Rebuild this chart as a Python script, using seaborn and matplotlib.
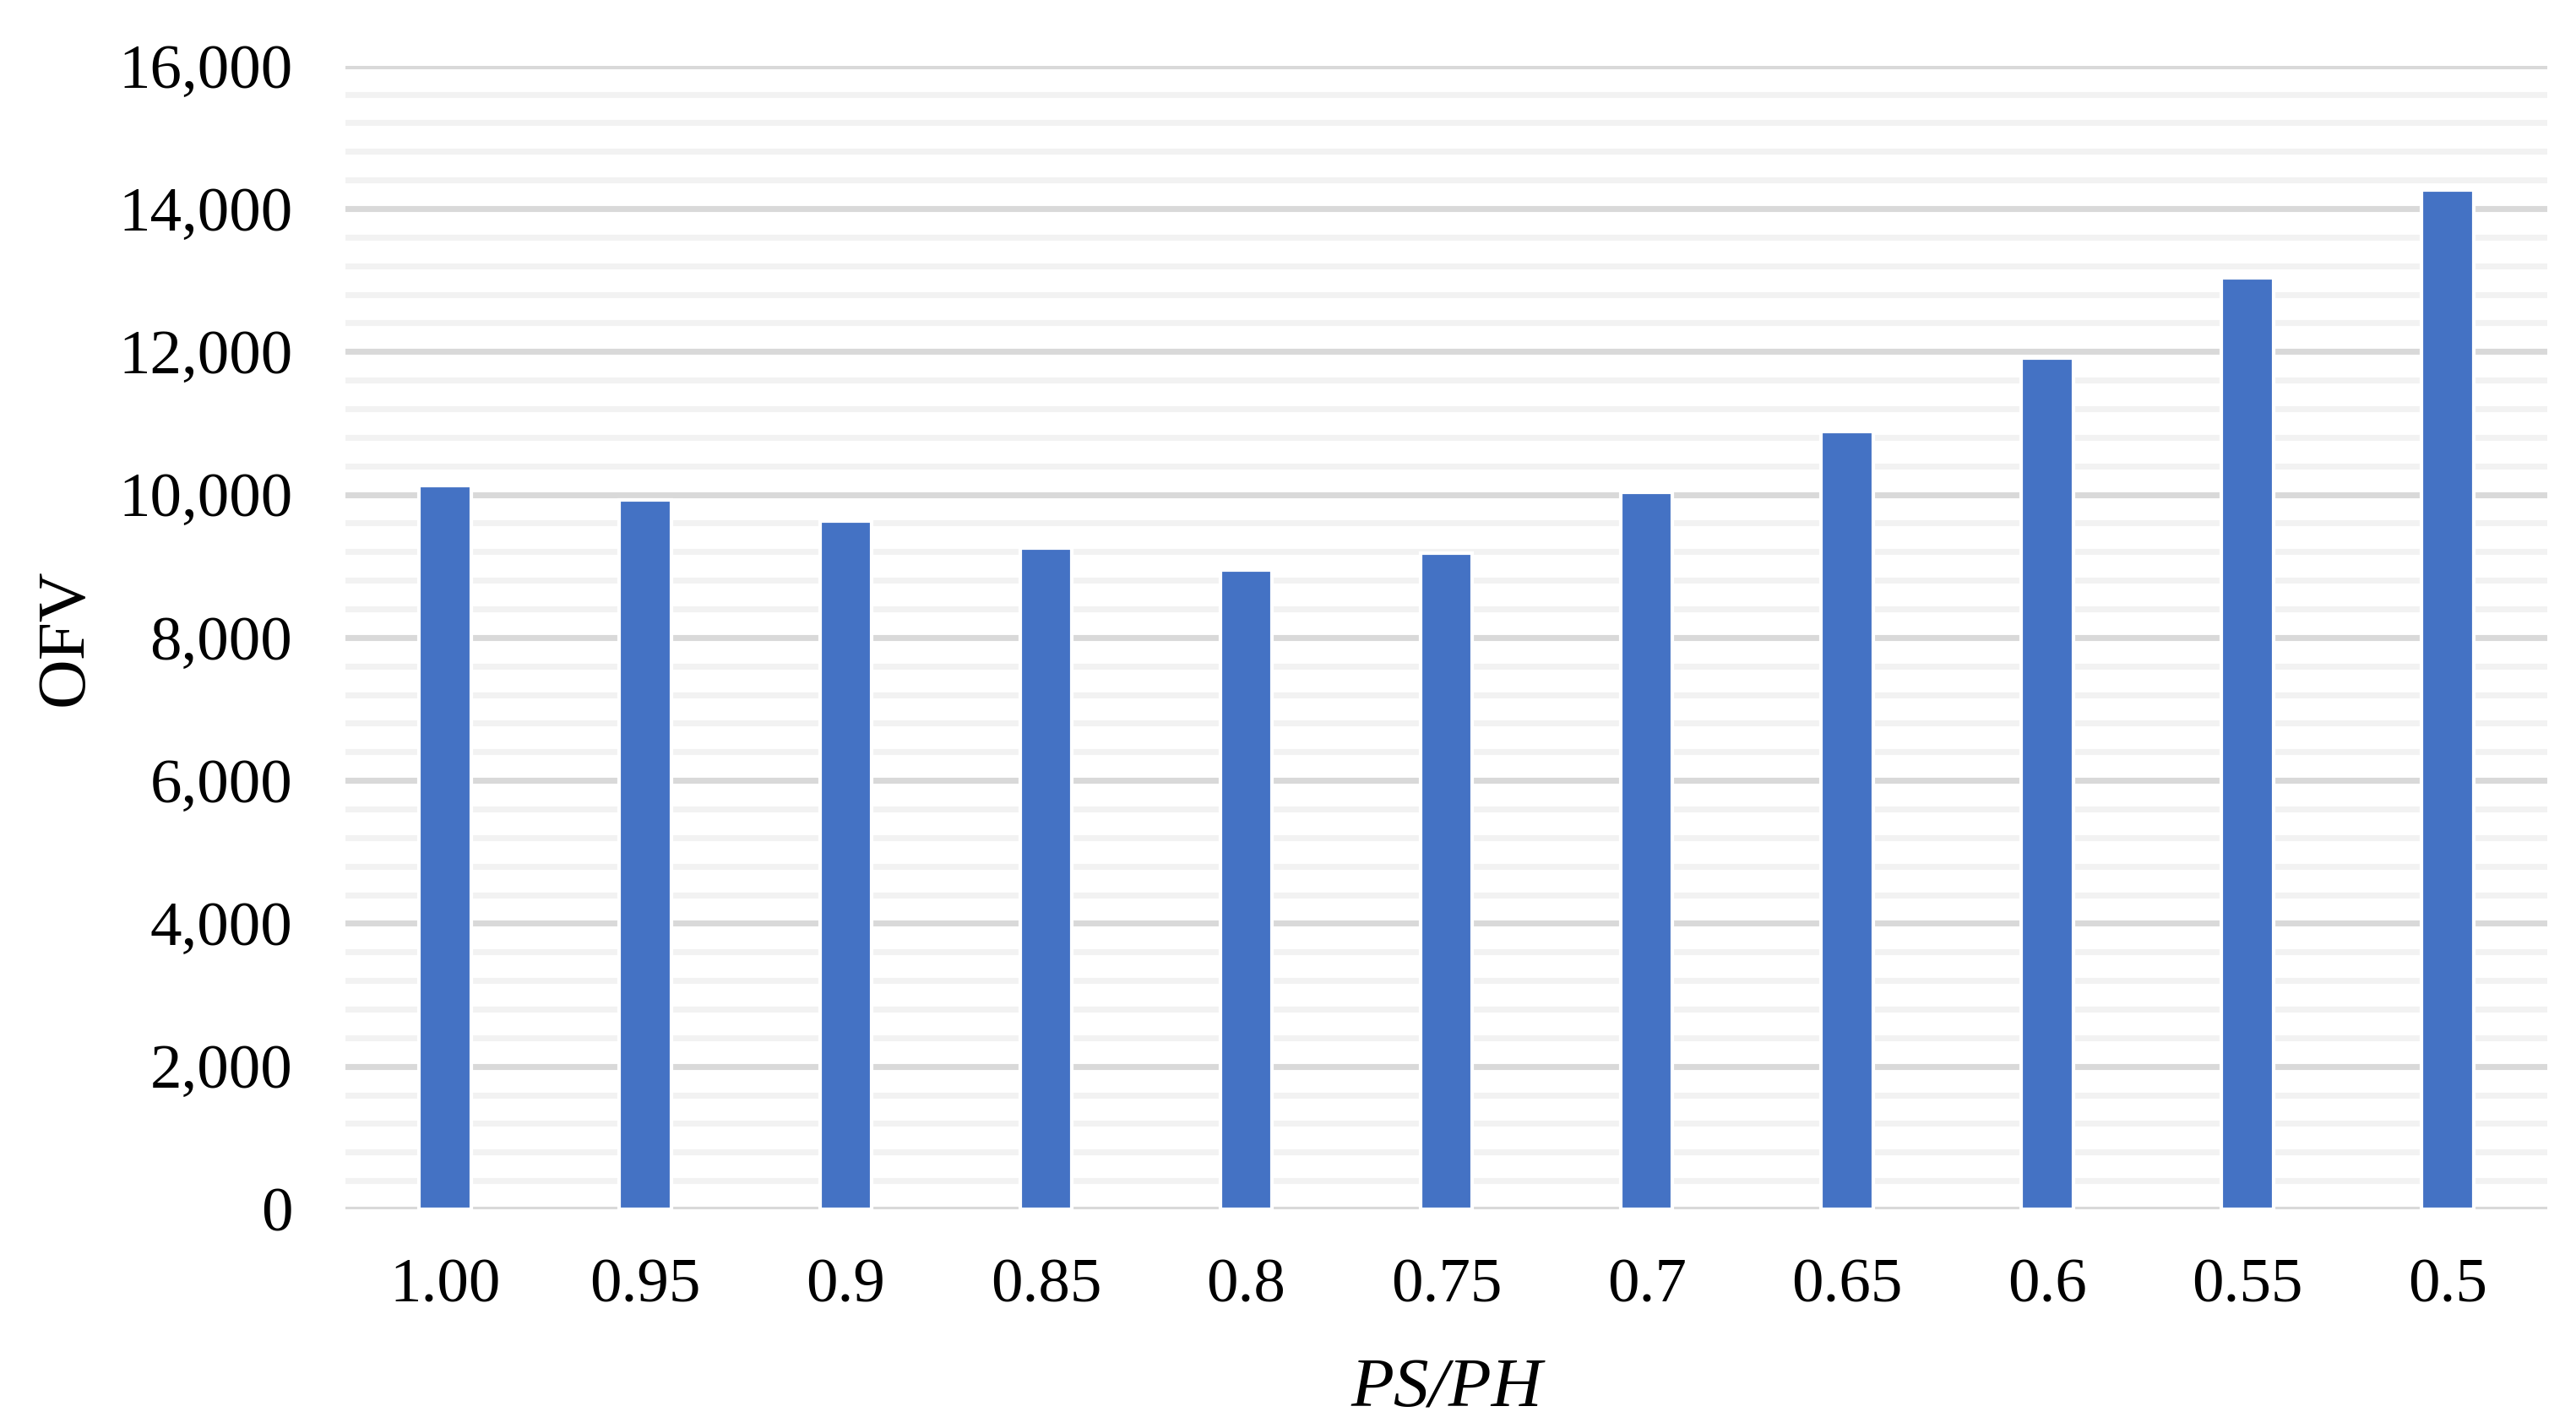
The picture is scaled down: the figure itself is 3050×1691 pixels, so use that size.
import matplotlib
matplotlib.use('Agg')
import matplotlib.pyplot as plt
from matplotlib.ticker import MultipleLocator, StrMethodFormatter
import pandas as pd
import seaborn as sns

# values
ratios = ['1.00', '0.95', '0.9', '0.85', '0.8', '0.75', '0.7', '0.65', '0.6', '0.55', '0.5']
ofv = [10120, 9930, 9630, 9245, 8940, 9175, 10035, 10885, 11915, 13035, 14260]

df = pd.DataFrame({'ratio': ratios, 'OFV': ofv})

sns.set_theme(style='white')
plt.rcParams['font.family'] = ['Liberation Serif', 'DejaVu Serif']

fig = plt.figure(figsize=(3050 / 300, 1691 / 300), dpi=300)
ax = fig.add_axes([0.134, 0.1532, 0.855, 0.8008])

sns.barplot(data=df, x='ratio', y='OFV', order=ratios, color='#4472C4',
            width=0.26, saturation=1, ax=ax, zorder=3)

# gridlines, excel style
ax.set_ylim(0, 16000)
ax.yaxis.set_major_locator(MultipleLocator(2000))
ax.yaxis.set_minor_locator(MultipleLocator(400))
ax.yaxis.set_major_formatter(StrMethodFormatter('{x:,.0f}'))
ax.grid(which='major', axis='y', color='#D9D9D9', linewidth=1.7, zorder=0)
ax.grid(which='minor', axis='y', color='#F2F2F2', linewidth=1.7, zorder=0)
ax.grid(which='both', axis='x', visible=False)
ax.set_axisbelow(True)
for s in ax.spines.values():
    s.set_visible(False)

ax.tick_params(which='both', length=0)
ax.tick_params(axis='y', labelsize=18, pad=15, colors='black')
ax.tick_params(axis='x', labelsize=18, pad=14, colors='black')

ax.set_ylabel('OFV', fontsize=19.5, labelpad=6, color='black')
ax.set_xlabel('PS/PH', fontsize=20, fontstyle='italic', labelpad=12, color='black')

fig.savefig('out.png', dpi=300, facecolor='white')
